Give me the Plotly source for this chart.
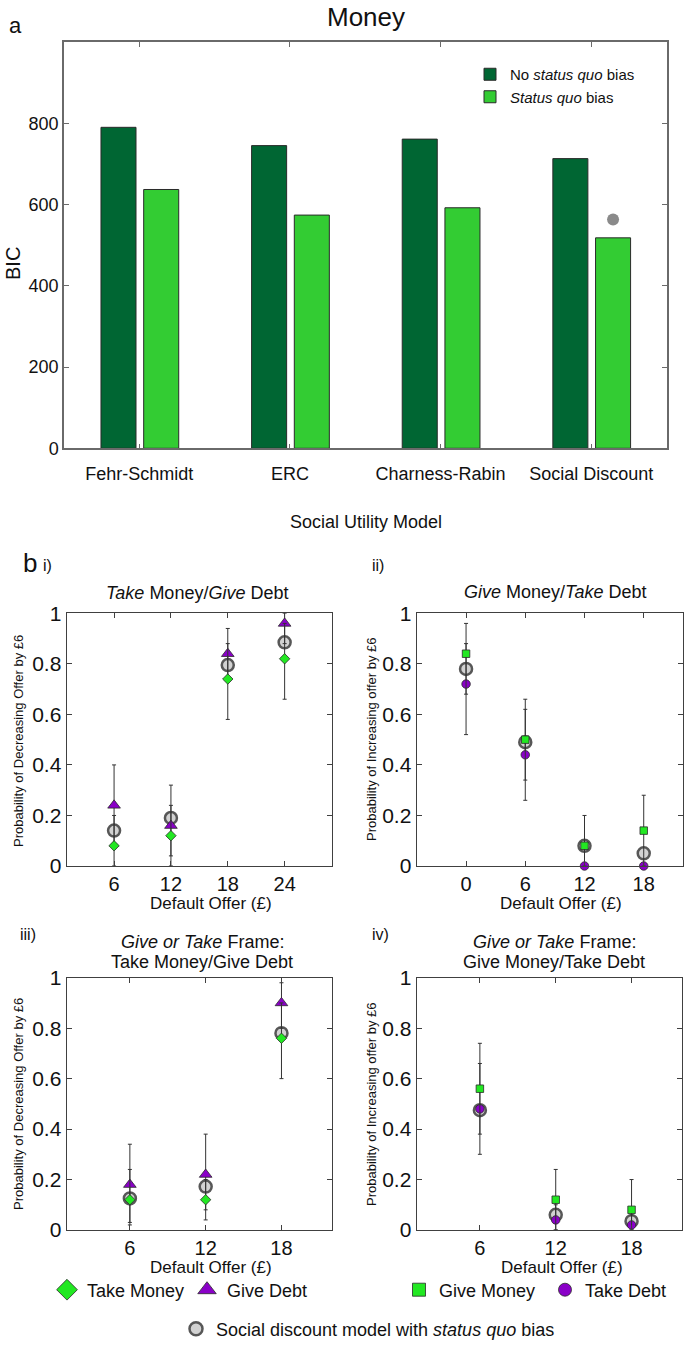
import plotly.graph_objects as go

W, H = 685, 1356
FONT = "Liberation Sans, Arial, Helvetica, sans-serif"

# ---------------- data: panel a ----------------
models = ["Fehr-Schmidt", "ERC", "Charness-Rabin", "Social Discount"]
bic_no_status_quo = [790, 745, 761, 713]
bic_status_quo = [637, 574, 592, 518]
best_model = "Social Discount"
best_model_marker_bic = 563
bic_ticks = [0, 200, 400, 600, 800]

# ---------------- data: panel b ----------------
# i) Take Money / Give Debt
offers_i = [6, 12, 18, 24]
sd_model_i = [0.14, 0.19, 0.795, 0.885]
take_money_i = [0.08, 0.12, 0.74, 0.82]
take_money_i_hi = [0.20, 0.24, 0.88, 0.96]
take_money_i_lo = [0.00, 0.00, 0.58, 0.66]
give_debt_i = [0.24, 0.16, 0.84, 0.96]
give_debt_i_hi = [0.40, 0.32, 0.94, 1.00]
give_debt_i_lo = [0.08, 0.04, 0.74, 0.88]

# ii) Give Money / Take Debt
offers_ii = [0, 6, 12, 18]
sd_model_ii = [0.78, 0.49, 0.08, 0.05]
give_money_ii = [0.84, 0.50, 0.08, 0.14]
give_money_ii_hi = [0.96, 0.66, 0.20, 0.28]
give_money_ii_lo = [0.68, 0.34, 0.00, 0.00]
take_debt_ii = [0.72, 0.44, 0.00, 0.00]
take_debt_ii_hi = [0.88, 0.62, 0.00, 0.00]
take_debt_ii_lo = [0.52, 0.26, 0.00, 0.00]

# iii) Give or Take frame: Take Money / Give Debt
offers_iii = [6, 12, 18]
sd_model_iii = [0.125, 0.172, 0.78]
take_money_iii = [0.12, 0.12, 0.76]
take_money_iii_hi = [0.24, 0.20, 0.90]
take_money_iii_lo = [0.03, 0.04, 0.60]
give_debt_iii = [0.18, 0.22, 0.90]
give_debt_iii_hi = [0.34, 0.38, 0.98]
give_debt_iii_lo = [0.02, 0.08, 0.80]

# iv) Give or Take frame: Give Money / Take Debt
offers_iv = [6, 12, 18]
sd_model_iv = [0.475, 0.06, 0.035]
give_money_iv = [0.56, 0.12, 0.08]
give_money_iv_hi = [0.74, 0.24, 0.20]
give_money_iv_lo = [0.38, 0.00, 0.00]
take_debt_iv = [0.48, 0.04, 0.02]
take_debt_iv_hi = [0.66, 0.10, 0.06]
take_debt_iv_lo = [0.30, 0.00, 0.00]

prob_ticks = [0, 0.2, 0.4, 0.6, 0.8, 1]

# ---------------- styles ----------------
DARK_GREEN = "#006633"
LIGHT_GREEN = "#33CC33"
BRIGHT_GREEN = "#22E822"
PURPLE = "#8A00C8"
GREY_FILL = "#D2D2D2"
GREY_RING = "#575757"


def xd(a, b):
    return [a / W, b / W]


def yd(top, bottom):
    return [1 - bottom / H, 1 - top / H]


def px_x(x):
    return x / W


def px_y(y):
    return 1 - y / H


fig = go.Figure()

# ---------------- panel a: bars ----------------
cat_pos = list(range(len(models)))
BAR_W = 0.2326
OFF_DARK = -0.2545
OFF_LIGHT = 0.029
fig.add_trace(go.Bar(
    x=cat_pos, y=bic_no_status_quo, width=BAR_W, offset=OFF_DARK,
    marker=dict(color=DARK_GREEN, line=dict(color="#2a2a2a", width=1)),
    name="No <i>status quo</i> bias", xaxis="x", yaxis="y", legend="legend",
))
fig.add_trace(go.Bar(
    x=cat_pos, y=bic_status_quo, width=BAR_W, offset=OFF_LIGHT,
    marker=dict(color=LIGHT_GREEN, line=dict(color="#2a2a2a", width=1)),
    name="<i>Status quo</i> bias", xaxis="x", yaxis="y", legend="legend",
))
best_idx = models.index(best_model)
fig.add_trace(go.Scatter(
    x=[best_idx + OFF_LIGHT + BAR_W / 2], y=[best_model_marker_bic], mode="markers",
    marker=dict(color="#8a8a8a", size=12), showlegend=False, xaxis="x", yaxis="y",
))


# ---------------- panel b helpers ----------------
def err(vals, hi, lo):
    return dict(type="data", symmetric=False,
                array=[h - v for v, h in zip(vals, hi)],
                arrayminus=[v - l for v, l in zip(vals, lo)],
                color="#333333", thickness=1, width=2)


def add_model(xs, ys, ax):
    fig.add_trace(go.Scatter(
        x=xs, y=ys, mode="markers", cliponaxis=False, showlegend=False,
        marker=dict(symbol="circle", size=12, color=GREY_FILL,
                    line=dict(color=GREY_RING, width=2.5)),
        xaxis="x" + ax, yaxis="y" + ax))


def add_series(xs, ys, hi, lo, ax, symbol, color, size):
    fig.add_trace(go.Scatter(
        x=xs, y=ys, mode="markers", cliponaxis=False, showlegend=False,
        error_y=err(ys, hi, lo),
        marker=dict(symbol=symbol, size=size, color=color,
                    line=dict(color="#2a2a2a", width=0.8)),
        xaxis="x" + ax, yaxis="y" + ax))


# i
add_model(offers_i, sd_model_i, "2")
add_series(offers_i, give_debt_i, give_debt_i_hi, give_debt_i_lo, "2", "triangle-up", PURPLE, 11)
add_series(offers_i, take_money_i, take_money_i_hi, take_money_i_lo, "2", "diamond", BRIGHT_GREEN, 8)
# ii
add_model(offers_ii, sd_model_ii, "3")
add_series(offers_ii, take_debt_ii, take_debt_ii_hi, take_debt_ii_lo, "3", "circle", PURPLE, 8.5)
add_series(offers_ii, give_money_ii, give_money_ii_hi, give_money_ii_lo, "3", "square", BRIGHT_GREEN, 7.5)
# iii
add_model(offers_iii, sd_model_iii, "4")
add_series(offers_iii, give_debt_iii, give_debt_iii_hi, give_debt_iii_lo, "4", "triangle-up", PURPLE, 11)
add_series(offers_iii, take_money_iii, take_money_iii_hi, take_money_iii_lo, "4", "diamond", BRIGHT_GREEN, 8)
# iv
add_model(offers_iv, sd_model_iv, "5")
add_series(offers_iv, take_debt_iv, take_debt_iv_hi, take_debt_iv_lo, "5", "circle", PURPLE, 8.5)
add_series(offers_iv, give_money_iv, give_money_iv_hi, give_money_iv_lo, "5", "square", BRIGHT_GREEN, 7.5)

# ---------------- legend entries for panel b (no data, legend only) ----------------
def legend_entry(name, symbol, color, size, leg, line_color="#2a2a2a", line_w=0.8):
    fig.add_trace(go.Scatter(
        x=[None], y=[None], mode="markers", name=name, legend=leg,
        marker=dict(symbol=symbol, size=size, color=color,
                    line=dict(color=line_color, width=line_w)),
        xaxis="x2", yaxis="y2"))


legend_entry("Take Money", "diamond", BRIGHT_GREEN, 16, "legend2")
legend_entry("Give Debt", "triangle-up", PURPLE, 16, "legend2")
legend_entry("Give Money", "square", BRIGHT_GREEN, 13, "legend3")
legend_entry("Take Debt", "circle", PURPLE, 13, "legend3")
legend_entry("Social discount model with <i>status quo</i> bias", "circle", GREY_FILL, 13,
             "legend4", GREY_RING, 2.5)

# ---------------- axes ----------------
common_b = dict(showline=True, linecolor="#404040", linewidth=1.3, mirror="ticks",
                ticks="inside", ticklen=5, tickcolor="#404040", showgrid=False,
                zeroline=False, automargin=False, tickfont=dict(size=21, color="#111"))
xb = dict(common_b, tickfont=dict(size=20, color="#111"))

layout_axes = dict(
    xaxis=dict(domain=xd(64, 666.5), range=[-0.5, 3.5], tickvals=cat_pos, ticktext=models,
               showline=True, linecolor="#6a6a6a", linewidth=1.5, mirror="ticks",
               ticks="inside", ticklen=5, tickcolor="#6a6a6a", showgrid=False,
               zeroline=False, automargin=False, tickfont=dict(size=18, color="#111"),
               ticklabelstandoff=8, anchor="y"),
    yaxis=dict(domain=yd(42, 448.3), range=[0, 1000], tickvals=bic_ticks,
               showline=True, linecolor="#6a6a6a", linewidth=1.5, mirror="ticks",
               ticks="inside", ticklen=5, tickcolor="#6a6a6a", showgrid=False,
               zeroline=False, automargin=False, tickfont=dict(size=18, color="#111"),
               anchor="x"),
    xaxis2=dict(domain=xd(66.7, 332), range=[1, 29], tickvals=offers_i, anchor="y2", **xb),
    yaxis2=dict(domain=yd(613.3, 866), range=[0, 1], tickvals=prob_ticks, anchor="x2", **common_b),
    xaxis3=dict(domain=xd(416.7, 683.2), range=[-5, 22], tickvals=offers_ii, anchor="y3", **xb),
    yaxis3=dict(domain=yd(613.3, 866), range=[0, 1], tickvals=prob_ticks, anchor="x3", **common_b),
    xaxis4=dict(domain=xd(66.7, 332), range=[1, 22], tickvals=offers_iii, anchor="y4", **xb),
    yaxis4=dict(domain=yd(977.7, 1230), range=[0, 1], tickvals=prob_ticks, anchor="x4", **common_b),
    xaxis5=dict(domain=xd(416.7, 682.1), range=[1, 22], tickvals=offers_iv, anchor="y5", **xb),
    yaxis5=dict(domain=yd(977.7, 1230), range=[0, 1], tickvals=prob_ticks, anchor="x5", **common_b),
)

# ---------------- text ----------------
def ann(text, x, y, size, angle=0, xanchor="center"):
    return dict(text=text, x=px_x(x), y=px_y(y), xref="paper", yref="paper",
                showarrow=False, xanchor=xanchor, yanchor="middle", textangle=angle,
                font=dict(size=size, color="#111", family=FONT))


annotations = [
    ann("Money", 366, 17, 26),
    ann("a", 15, 25, 22),
    ann("BIC", 13, 264, 20, angle=-90),
    ann("Social Utility Model", 366, 522, 18),
    ann("b", 30, 563, 26),
    ann("i)", 47, 566, 16),
    ann("ii)", 378, 565, 16),
    ann("iii)", 28, 934, 16),
    ann("iv)", 380, 934, 16),
    ann("<i>Take</i> Money/<i>Give</i> Debt", 197, 593, 18),
    ann("<i>Give</i> Money/<i>Take</i> Debt", 555, 592, 18),
    ann("<i>Give or Take</i> Frame:", 202, 942, 18),
    ann("Take Money/Give Debt", 202, 962, 18),
    ann("<i>Give or Take</i> Frame:", 554, 942, 18),
    ann("Give Money/Take Debt", 554, 962, 18),
    ann("Probability of Decreasing Offer by £6", 18, 741, 13, angle=-90),
    ann("Probability of Increasing offer by £6", 371, 739, 13, angle=-90),
    ann("Probability of Decreasing Offer by £6", 18, 1104, 13, angle=-90),
    ann("Probability of Increasing offer by £6", 371, 1104, 13, angle=-90),
    ann("Default Offer (£)", 211, 903, 17),
    ann("Default Offer (£)", 561, 903, 17),
    ann("Default Offer (£)", 211, 1267, 17),
    ann("Default Offer (£)", 562, 1267, 17),
]

leg_common = dict(bgcolor="rgba(0,0,0,0)", borderwidth=0, itemsizing="trace",
                  font=dict(size=18, color="#111", family=FONT), itemclick=False,
                  itemdoubleclick=False)

fig.update_layout(
    template="none",
    width=W, height=H, margin=dict(l=0, r=0, t=0, b=0, autoexpand=False),
    paper_bgcolor="white", plot_bgcolor="white",
    font=dict(family=FONT, color="#111"),
    barmode="overlay",
    annotations=annotations,
    legend=dict(x=px_x(470), y=px_y(58), xanchor="left", yanchor="top",
                bgcolor="rgba(0,0,0,0)", borderwidth=0, tracegroupgap=0,
                font=dict(size=15, color="#111", family=FONT)),
    legend2=dict(x=px_x(47), y=px_y(1290), xanchor="left", yanchor="middle",
                 orientation="h", entrywidth=95, **leg_common),
    legend3=dict(x=px_x(399), y=px_y(1290), xanchor="left", yanchor="middle",
                 orientation="h", entrywidth=101, **leg_common),
    legend4=dict(x=px_x(176), y=px_y(1329), xanchor="left", yanchor="middle",
                 orientation="h", **leg_common),
    **layout_axes,
)

fig.write_html("out.html",
               config={"displayModeBar": False},
               post_script="document.body.style.margin='0';"
                           "document.body.style.overflow='hidden';")
